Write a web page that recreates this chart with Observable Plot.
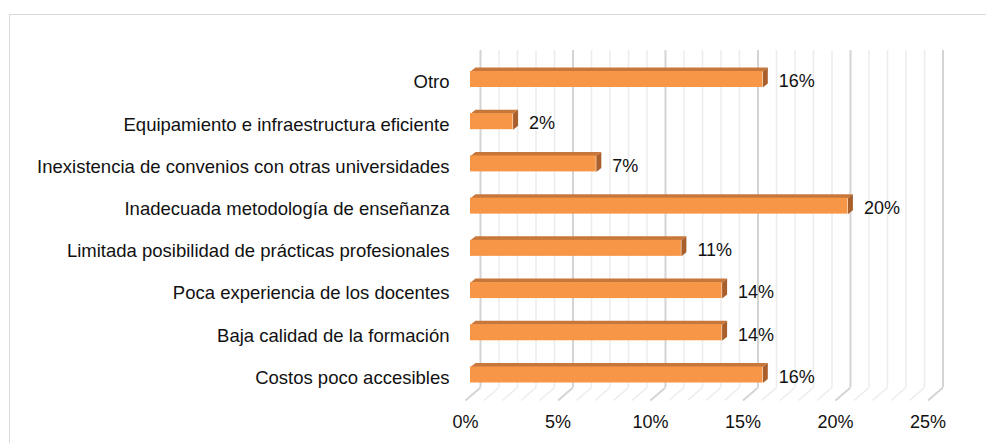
<!DOCTYPE html>
<html>
<head>
<meta charset="utf-8">
<script src="https://cdn.jsdelivr.net/npm/d3@7"></script>
<script src="https://cdn.jsdelivr.net/npm/@observablehq/plot@0.6"></script>
<style>
  html, body { margin: 0; padding: 0; background: #fff; }
  #wrap { position: relative; width: 986px; height: 443px; overflow: hidden; }
  #border { position: absolute; left: 9px; top: 14px; width: 1000px; height: 500px;
            border-top: 1px solid #d9d9d9; border-left: 1px solid #d9d9d9; }
  #chart { position: absolute; left: 0; top: 0; }
</style>
</head>
<body>
<div id="wrap"><div id="border"></div><div id="chart"></div></div>
<script>
// Categories, bottom to top
const categories = [
  "Costos poco accesibles",
  "Baja calidad de la formación",
  "Poca experiencia de los docentes",
  "Limitada posibilidad de prácticas profesionales",
  "Inadecuada metodología de enseñanza",
  "Inexistencia de convenios con otras universidades",
  "Equipamiento e infraestructura eficiente",
  "Otro"
];
// Percent values
const values = [15.8, 13.6, 13.6, 11.4, 20.4, 6.8, 2.3, 15.8];
const majorTicks = [0, 5, 10, 15, 20, 25];
const minorTicks = d3.range(0, 26, 1);

const PX_PER_X = 18.5;     // pixels per percent
const PX_PER_ROW = (374.5 - 79) / 7;
const depthX = px => px / PX_PER_X;
const depthY = px => px / PX_PER_ROW;

const rows = categories.map((c, i) => ({cat: c, i, v: values[i]}));
const H = depthY(8);            // half bar height
const DX = depthX(5), DY = depthY(4);   // bar depth
const BACK = depthX(10), FRONT = depthX(-5); // wall/floor offsets

const topFaces = rows.flatMap(r => [
  {k: r.i, x: 0, y: r.i + H},
  {k: r.i, x: r.v, y: r.i + H},
  {k: r.i, x: r.v + DX, y: r.i + H + DY},
  {k: r.i, x: DX, y: r.i + H + DY}
]);
const sideFaces = rows.flatMap(r => [
  {k: r.i, x: r.v, y: r.i + H},
  {k: r.i, x: r.v + DX, y: r.i + H + DY},
  {k: r.i, x: r.v + DX, y: r.i - H + DY},
  {k: r.i, x: r.v, y: r.i - H}
]);

const yTop = (374.5 - 50) / PX_PER_ROW;
const yFloorBack = (374.5 - 387) / PX_PER_ROW;
const yFloorFront = (374.5 - 400) / PX_PER_ROW;
const yLabels = (374.5 - 422) / PX_PER_ROW;

const font = "'Liberation Sans', Arial, sans-serif";
const FS = 18;
const minor = minorTicks.filter(t => t % 5 !== 0);

const chart = Plot.plot({
  width: 986,
  height: 443,
  x: {domain: [0, 25], range: [470, 470 + 25 * PX_PER_X]},
  y: {domain: [0, 7], range: [374.5, 79]},
  axis: null,
  style: {fontFamily: font, background: "transparent"},
  marks: [
    // back wall gridlines
    Plot.ruleX(minor, {x: d => d + BACK, y1: yTop, y2: yFloorBack, stroke: "#ececec", strokeWidth: 1.5}),
    Plot.link(minor, {x1: d => d + BACK, x2: d => d + FRONT, y1: yFloorBack, y2: yFloorFront, stroke: "#ececec", strokeWidth: 1.5}),
    Plot.ruleX(majorTicks, {x: d => d + BACK, y1: yTop, y2: yFloorBack, stroke: "#d4d4d4", strokeWidth: 2}),
    Plot.link(majorTicks, {x1: d => d + BACK, x2: d => d + FRONT, y1: yFloorBack, y2: yFloorFront, stroke: "#d4d4d4", strokeWidth: 2}),
    // bars
    Plot.line(topFaces, {x: "x", y: "y", z: "k", curve: "linear-closed", fill: "#c8773a", stroke: "none"}),
    Plot.line(sideFaces, {x: "x", y: "y", z: "k", curve: "linear-closed", fill: "#a95f2b", stroke: "none"}),
    Plot.rect(rows, {x1: 0, x2: "v", y1: r => r.i - H, y2: r => r.i + H, fill: "#f79646"}),
    // value labels
    Plot.text(rows, {x: "v", y: "i", dx: 16, dy: 2, text: r => Math.round(r.v) + "%", textAnchor: "start", fontSize: FS, fill: "#111"}),
    // category labels
    Plot.text(rows, {x: 0, y: "i", dx: -21, dy: 3, text: "cat", textAnchor: "end", fontSize: 18.5, fill: "#111"}),
    // x tick labels
    Plot.text(majorTicks, {x: d => d + FRONT, y: yLabels, text: d => d + "%", fontSize: FS, fill: "#111"})
  ]
});
document.getElementById("chart").appendChild(chart);
</script>
</body>
</html>
